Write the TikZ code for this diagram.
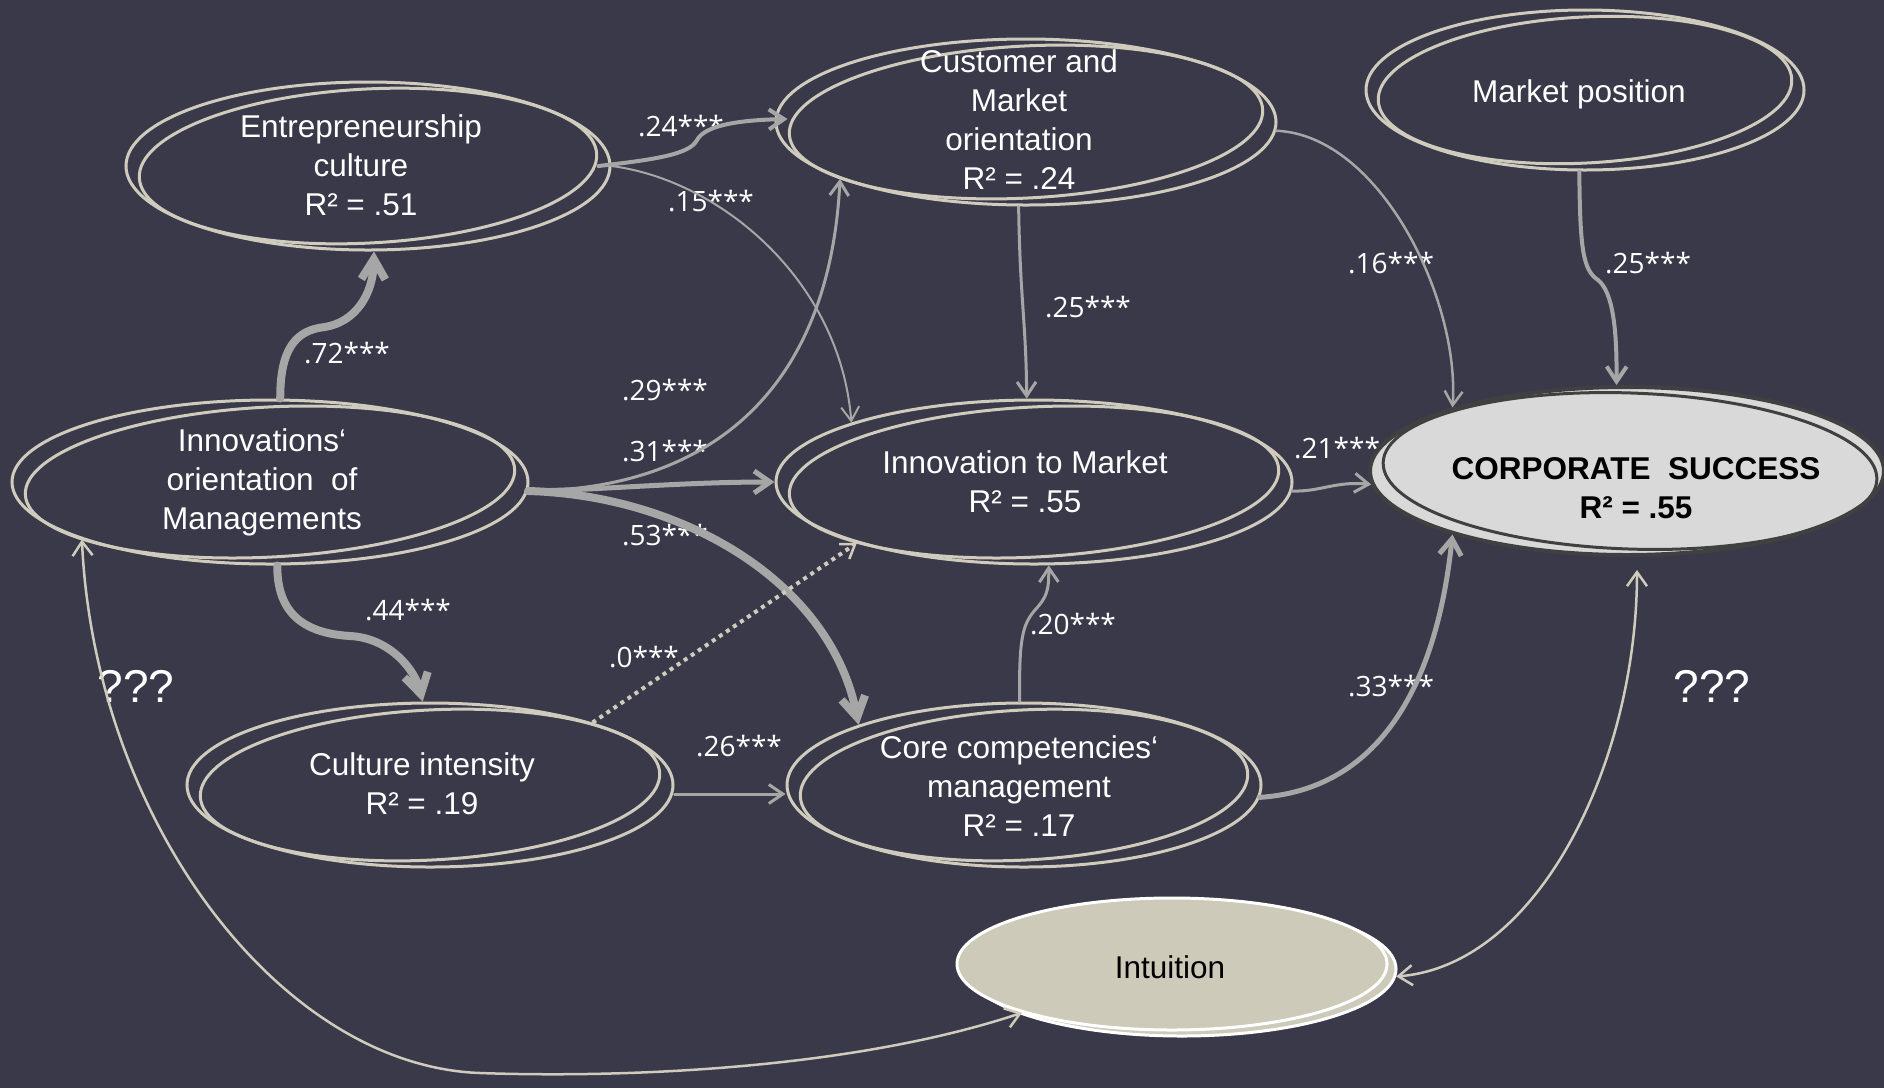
\documentclass[tikz,border=0pt]{standalone}
\usepackage{fontspec}
\setmainfont{Liberation Sans}
\newfontfamily\coeffont{Open Sans}
\usetikzlibrary{arrows.meta,shapes.geometric}

\definecolor{canvas}{RGB}{58,57,74}
\definecolor{ringbeige}{RGB}{207,204,189}
\definecolor{edgegray}{RGB}{166,166,166}
\definecolor{successfill}{RGB}{217,217,217}
\definecolor{successline}{RGB}{64,64,64}
\definecolor{intuitionfill}{RGB}{205,202,186}

\tikzset{
  ring/.style={ellipse, draw=ringbeige, line width=3pt, inner sep=0pt},
  nodetext/.style={text=white, font=\fontsize{31.5}{39}\selectfont, align=center, inner sep=0pt},
  darktext/.style={text=black, font=\fontsize{31.5}{39}\selectfont, align=center, inner sep=0pt},
  coef/.style={text=white, font=\coeffont\fontsize{28}{32}\selectfont, inner sep=0pt},
  unknown/.style={text=white, font=\fontsize{46}{50}\selectfont, inner sep=0pt},
  link/.style={draw=edgegray, line cap=round},
  thinlink/.style={link, line width=2.5pt, -{Straight Barb[length=14pt,width=18pt]}},
  midlink/.style={link, line width=4pt, -{Straight Barb[length=15pt,width=20pt]}},
  boldlink/.style={link, line width=5pt, -{Straight Barb[length=16pt,width=22pt]}},
  heavylink/.style={link, line width=8pt, -{Straight Barb[length=20pt,width=24pt]}},
  beigelink/.style={draw=ringbeige, line width=2.5pt,
    {Straight Barb[length=14pt,width=20pt]}-{Straight Barb[length=14pt,width=20pt]}},
  dottedlink/.style={draw=ringbeige, line width=4pt, dash pattern=on 4pt off 4.5pt,
    -{Straight Barb[length=13pt,width=18pt,line width=2.5pt]}},
}

\begin{document}
\begin{tikzpicture}[x=1pt,y=-1pt]
\useasboundingbox (0,0) rectangle (1884,1088);
\fill[canvas] (0,0) rectangle (1884,1088);

% ---- constructs: outer rings and slightly turned inner rings ----
\node[ring, minimum width=484pt, minimum height=168pt] (E) at (368,166) {};
\node[ring, minimum width=458pt, minimum height=154pt, rotate=3] (Ei) at (E.center) {};

\node[ring, minimum width=500pt, minimum height=166pt] (C) at (1026,122) {};
\node[ring, minimum width=474pt, minimum height=152pt, rotate=3] (Ci) at (C.center) {};

\node[ring, minimum width=438pt, minimum height=160pt] (M) at (1585,90) {};
\node[ring, minimum width=414pt, minimum height=146pt, rotate=3] (Mi) at (M.center) {};

\node[ring, minimum width=516pt, minimum height=164pt] (I) at (270,482) {};
\node[ring, minimum width=490pt, minimum height=150pt, rotate=3] (Ii) at (I.center) {};

\node[ring, minimum width=516pt, minimum height=164pt] (N) at (1034,482) {};
\node[ring, minimum width=490pt, minimum height=150pt, rotate=3] (Ni) at (N.center) {};

\node[ring, minimum width=486pt, minimum height=164pt] (CI) at (430,785) {};
\node[ring, minimum width=460pt, minimum height=150pt, rotate=3] (CIi) at (CI.center) {};

\node[ring, minimum width=474pt, minimum height=164pt] (CC) at (1024,785) {};
\node[ring, minimum width=448pt, minimum height=150pt, rotate=3] (CCi) at (CC.center) {};

% outcome construct
\node[ellipse, fill=successfill, draw=successline, line width=4pt, inner sep=0pt,
      minimum width=514pt, minimum height=168pt] (S) at (1627,471) {};
\node[ellipse, draw=successline, line width=3pt, inner sep=0pt,
      minimum width=494pt, minimum height=156pt, rotate=-2] (Si) at ([xshift=3pt]S.center) {};

% intuition with its offset back ring
\node[ellipse, fill=intuitionfill, draw=white, line width=3pt, inner sep=0pt,
      minimum width=428pt, minimum height=134pt] (ITb) at (1182,969) {};
\node[ellipse, fill=intuitionfill, draw=white, line width=3pt, inner sep=0pt,
      minimum width=430pt, minimum height=132pt] (IT) at (1172,964) {};

% ---- construct texts ----
\node[nodetext] (Et) at (361,165) {Entrepreneurship\\culture\\R² = .51};
\node[nodetext] (Ct) at (1019,120) {Customer and\\Market\\orientation\\R² = .24};
\node[nodetext] (Mt) at (1579,94) {Market position};
\node[nodetext] (It) at (262,482) {Innovations‘\\orientation~~of\\Managements};
\node[nodetext] (Nt) at (1025,482) {Innovation to Market\\R² = .55};
\node[nodetext] (CIt) at (422,784) {Culture intensity\\R² = .19};
\node[nodetext] (CCt) at (1019,786) {Core competencies‘\\management\\R² = .17};
\node[darktext, font=\fontsize{31.5}{39}\selectfont\bfseries] (St) at (1636,488) {CORPORATE~~SUCCESS\\R² = .55};
\node[darktext] (ITt) at (1170,967) {Intuition};

\node[unknown] (q1) at (136,686) {???};
\node[unknown] (q2) at (1712,686) {???};

% ---- path coefficients ----
\node[coef] (c72) at (347,353) {.72***};
\node[coef] (c44) at (408,610) {.44***};
\node[coef] (c24) at (681,126) {.24***};
\node[coef] (c15) at (711,201) {.15***};
\node[coef] (c29) at (665,390) {.29***};
\node[coef] (c31) at (665,451) {.31***};
\node[coef] (c53) at (665,535) {.53***};
\node[coef] (c00) at (644,657) {.0***};
\node[coef] (c26) at (739,746) {.26***};
\node[coef] (c25a) at (1088,307) {.25***};
\node[coef] (c16) at (1391,263) {.16***};
\node[coef] (c25b) at (1648,263) {.25***};
\node[coef] (c21) at (1337,448) {.21***};
\node[coef] (c20) at (1073,624) {.20***};
\node[coef] (c33) at (1391,686) {.33***};

% ---- structural paths ----
\draw[heavylink] (I.83) .. controls (280,350) and (295,330) .. (325,327)
                 .. controls (355,322) and (373,295) .. (E.274);
\draw[heavylink] (I.275) .. controls (277,610) and (300,633) .. (350,636)
                 .. controls (390,638) and (415,670) .. (CI.95);
\draw[link, line width=3pt, -{Straight Barb[length=14pt,width=19pt]}]
      (I.358) .. controls (720,490) and (830,380) .. (C.197);
\draw[boldlink] (I.358) .. controls (600,490) and (680,482) .. (N.180);
\draw[heavylink] (I.358) .. controls (680,495) and (830,580) .. (CC.160);

\draw[midlink] ([xshift=-13pt]E.east) .. controls (650,160) and (690,155) .. (697,140)
               .. controls (705,125) and (740,120) .. ([xshift=13pt,yshift=3pt]C.west);
\draw[link, line width=2pt, -{Straight Barb[length=14pt,width=18pt]}]
      (E.east) .. controls (720,180) and (840,280) .. (N.162);

\draw[link, line width=3pt, -{Straight Barb[length=14pt,width=19pt]}]
      (C.265) .. controls (1020,300) and (1026,320) .. (N.95);
\draw[thinlink] (C.358) .. controls (1380,135) and (1460,300) .. (S.160);
\draw[midlink] (M.266) .. controls (1580,250) and (1583,270) .. (1598,280)
               .. controls (1613,292) and (1617,330) .. (S.97);
\draw[link, line width=3pt, -{Straight Barb[length=14pt,width=19pt]}]
      (N.358) .. controls (1320,492) and (1335,481) .. (S.183);
\draw[boldlink] (CC.357) .. controls (1370,790) and (1435,700) .. (S.200);
\draw[link, line width=3pt, -{Straight Barb[length=14pt,width=19pt]}]
      (CC.93) .. controls (1019,640) and (1022,625) .. (1035,610)
              .. controls (1047,597) and (1049,590) .. (N.280);
\draw[link, line width=3pt, -{Straight Barb[length=14pt,width=19pt]}]
      ([yshift=-9pt]CI.east) -- ([yshift=-9pt]CC.west);
\draw[dottedlink] (CI.21) -- (N.199);

% ---- links to intuition ----
\draw[beigelink] (IT.198) .. controls (850,1070) and (620,1078) .. (480,1073)
                 .. controls (280,1066) and (95,820) .. (I.197);
\draw[beigelink] (ITb.358) .. controls (1540,965) and (1637,760) .. ([xshift=10pt,yshift=-13pt]S.south);
\end{tikzpicture}
\end{document}
